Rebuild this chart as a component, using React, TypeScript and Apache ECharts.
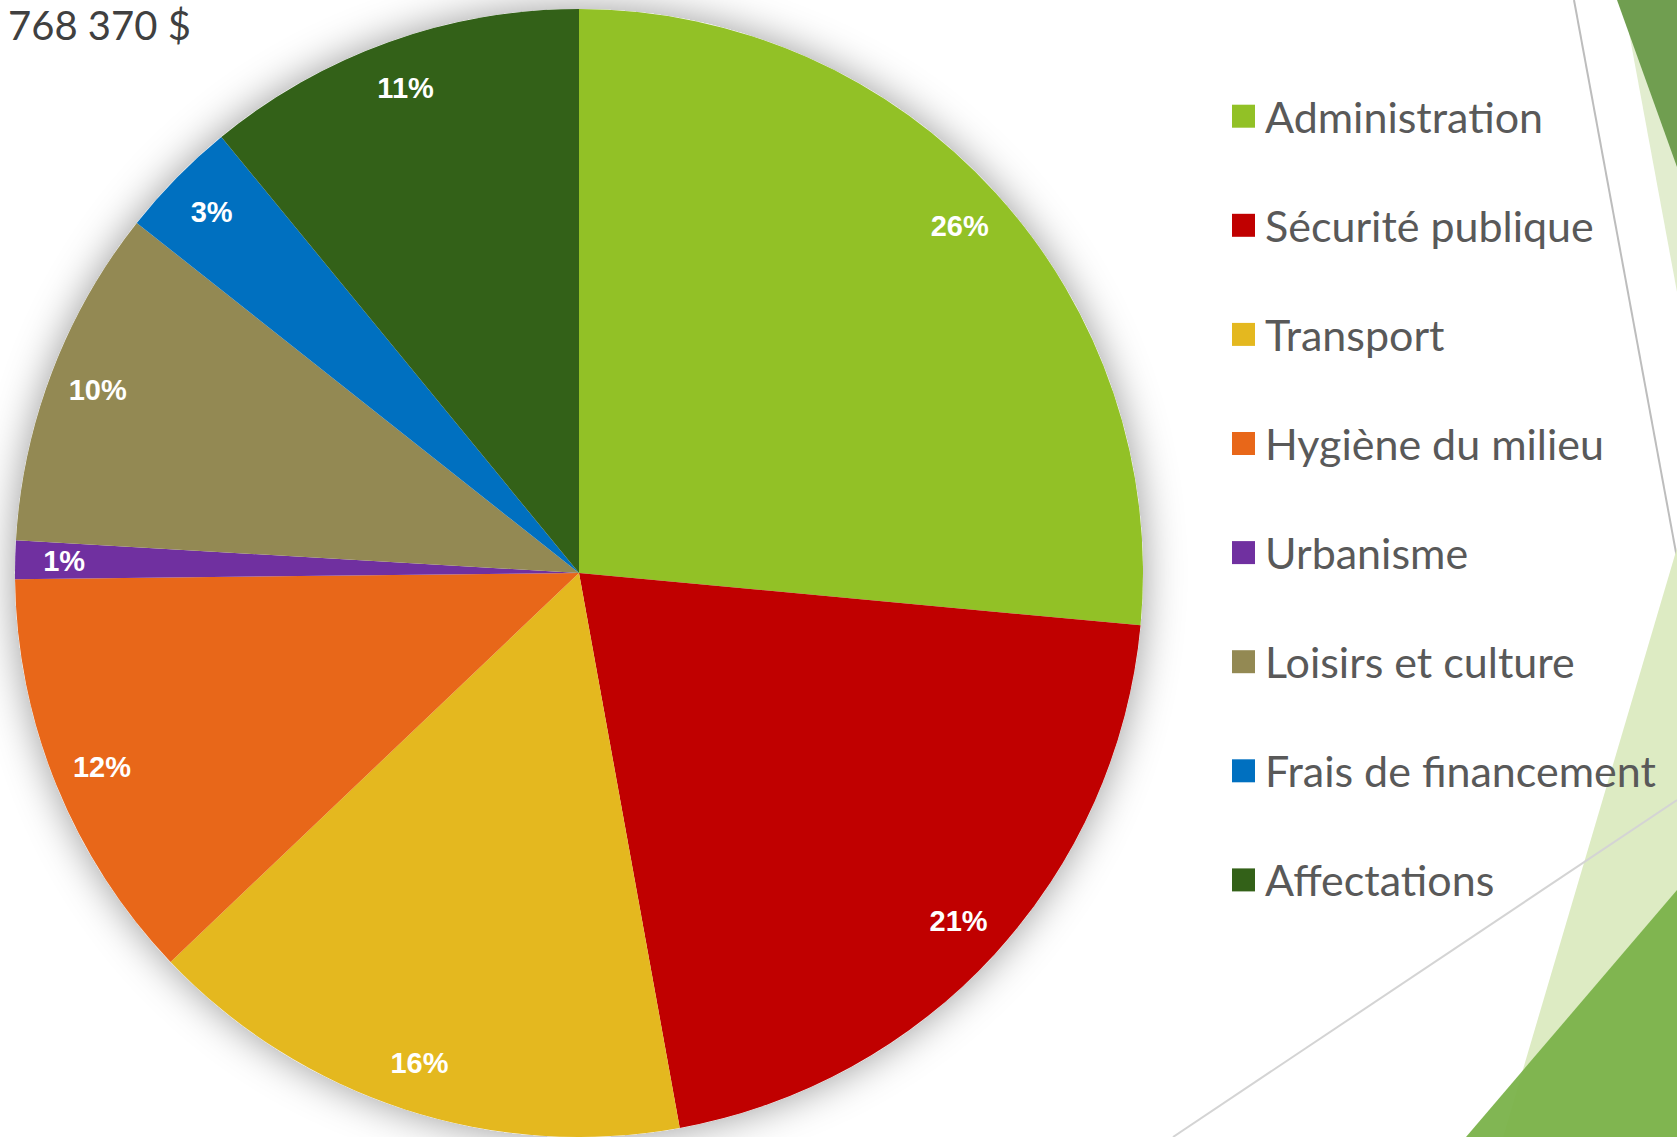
import React, { useEffect, useRef } from "react";
import * as echarts from "echarts";

const categories = [
  "Administration",
  "Sécurité publique",
  "Transport",
  "Hygiène du milieu",
  "Urbanisme",
  "Loisirs et culture",
  "Frais de financement",
  "Affectations",
];
const shares = [26.4, 20.6, 15.7, 11.9, 1.1, 9.7, 3.4, 10.9];
const colors = ["#92C126", "#C00000", "#E4B81F", "#E86719", "#7030A0", "#938953", "#0070C0", "#336118"];
const titleText = "768 370 $";

export default function App() {
  const ref = useRef<HTMLDivElement>(null);
  useEffect(() => {
    document.body.style.margin = "0";
    const chart = echarts.init(ref.current!, null, { renderer: "svg" });
    const data = categories.map((name, i) => ({ name, value: shares[i], itemStyle: { color: colors[i] } }));
    const center = [579, 573];
    const R = 564;
    chart.setOption({
      animation: false,
      backgroundColor: "#ffffff",
      graphic: [
        { type: "polygon", z: 0, shape: { points: [[1623, 0], [1677, 0], [1677, 292]] }, style: { fill: "#E2EDCF" } },
        { type: "polygon", z: 0, shape: { points: [[1617, 0], [1677, 0], [1677, 167]] }, style: { fill: "#709E50" } },
        { type: "line", z: 0, shape: { x1: 1574, y1: 0, x2: 1677, y2: 558 }, style: { stroke: "#BDBDBD", lineWidth: 2 } },
        { type: "polygon", z: 0, shape: { points: [[1677, 548], [1677, 1137], [1503, 1137]] }, style: { fill: "#DDEBC3" } },
        { type: "line", z: 0, shape: { x1: 1677, y1: 800, x2: 1173, y2: 1137 }, style: { stroke: "#D4D4D4", lineWidth: 2 } },
        { type: "polygon", z: 0, shape: { points: [[1677, 890], [1677, 1137], [1466, 1137]] }, style: { fill: "#7AB24A", opacity: 0.95 } },
        {
          type: "text",
          z: 5,
          x: 8,
          y: 5,
          style: {
            text: titleText,
            fill: "#404040",
            font: "40px Lato, 'Open Sans', sans-serif",
            textAlign: "left",
            textVerticalAlign: "top",
          },
        },
      ],
      legend: {
        orient: "vertical",
        left: 1227,
        top: 88.2,
        itemWidth: 23,
        itemHeight: 23,
        itemGap: 63.1,
        icon: "rect",
        data: categories,
        textStyle: {
          fontFamily: "Lato, 'Open Sans', sans-serif",
          fontSize: 43,
          lineHeight: 46,
          color: "#595959",
          padding: [0, 0, 0, 5],
        },
      },
      series: [
        {
          type: "pie",
          silent: true,
          center,
          radius: R,
          z: 1,
          label: { show: false },
          labelLine: { show: false },
          itemStyle: { color: "#ffffff", shadowBlur: 40, shadowColor: "rgba(0,0,0,0.4)" },
          data: [{ name: "__shadow", value: 1 }],
        },
        {
          type: "pie",
          center,
          radius: R,
          startAngle: 90,
          clockwise: true,
          z: 2,
          label: { show: false },
          labelLine: { show: false },
          data,
        },
        {
          type: "pie",
          center,
          radius: [460, R],
          startAngle: 90,
          clockwise: true,
          z: 3,
          silent: true,
          itemStyle: { color: "rgba(0,0,0,0)" },
          label: {
            show: true,
            position: "inside",
            color: "#ffffff",
            fontWeight: "bold",
            fontFamily: "'Liberation Sans', Arial, sans-serif",
            fontSize: 29,
            formatter: (p: any) => Math.round(p.percent) + "%",
          },
          labelLine: { show: false },
          data: categories.map((name, i) => ({ name, value: shares[i] })),
        },
      ],
    });
    return () => chart.dispose();
  }, []);
  return <div ref={ref} style={{ width: 1677, height: 1137 }} />;
}
